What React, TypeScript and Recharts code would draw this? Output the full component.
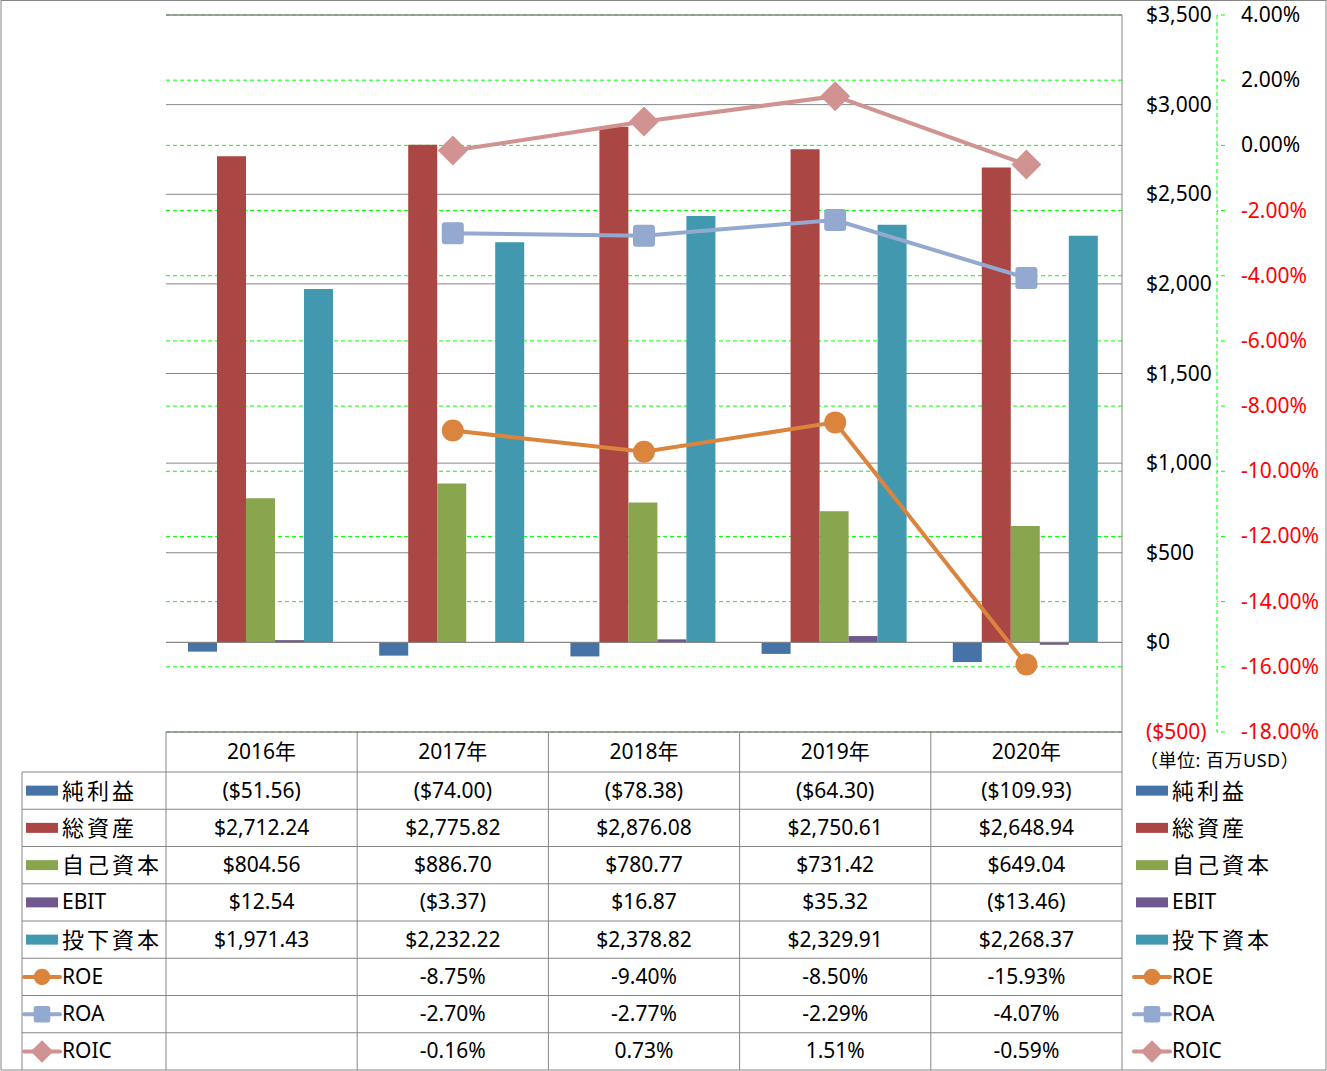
import React from 'react';
import {
  ComposedChart,
  Bar,
  Line,
  XAxis,
  YAxis,
  CartesianGrid,
  ReferenceLine,
} from 'recharts';

const years = ['2016年', '2017年', '2018年', '2019年', '2020年'];
const netIncome = [-51.56, -74.0, -78.38, -64.3, -109.93];
const totalAssets = [2712.24, 2775.82, 2876.08, 2750.61, 2648.94];
const equity = [804.56, 886.7, 780.77, 731.42, 649.04];
const ebit = [12.54, -3.37, 16.87, 35.32, -13.46];
const investedCapital = [1971.43, 2232.22, 2378.82, 2329.91, 2268.37];
const roe = [null, -8.75, -9.4, -8.5, -15.93];
const roa = [null, -2.7, -2.77, -2.29, -4.07];
const roic = [null, -0.16, 0.73, 1.51, -0.59];

const moneyTicks = [-500, 0, 500, 1000, 1500, 2000, 2500, 3000, 3500];
const pctTicks = [-18, -16, -14, -12, -10, -8, -6, -4, -2, 0, 2, 4];

const data = years.map((y, i) => ({
  year: y,
  netIncome: netIncome[i],
  totalAssets: totalAssets[i],
  equity: equity[i],
  ebit: ebit[i],
  investedCapital: investedCapital[i],
  roe: roe[i],
  roa: roa[i],
  roic: roic[i],
}));

const FONT = '"Noto Sans", "Noto Sans CJK JP", sans-serif';
const JP_FONT = '"Noto Sans CJK JP", sans-serif';
const GRAY = '#868686';
const GREEN = '#00FF00';
const FS = 21;

const W = 1327;
const H = 1071;
const PLOT_L = 166;
const PLOT_R = 1122;
const PLOT_T = 15;
const PLOT_B = 732;
const ROW_H = 37.25;

type Series = {
  key: string;
  name: string;
  color: string;
  kind: 'bar' | 'circle' | 'square' | 'diamond';
  values: (number | null)[];
};

const series: Series[] = [
  { key: 'netIncome', name: '純利益', color: '#4572A7', kind: 'bar', values: netIncome },
  { key: 'totalAssets', name: '総資産', color: '#AA4643', kind: 'bar', values: totalAssets },
  { key: 'equity', name: '自己資本', color: '#89A54E', kind: 'bar', values: equity },
  { key: 'ebit', name: 'EBIT', color: '#71588F', kind: 'bar', values: ebit },
  { key: 'investedCapital', name: '投下資本', color: '#4198AF', kind: 'bar', values: investedCapital },
  { key: 'roe', name: 'ROE', color: '#DB843D', kind: 'circle', values: roe },
  { key: 'roa', name: 'ROA', color: '#93A9CF', kind: 'square', values: roa },
  { key: 'roic', name: 'ROIC', color: '#D19392', kind: 'diamond', values: roic },
];

const fmtMoney = (v: number) => {
  const s = '$' + Math.abs(v).toLocaleString('en-US', { minimumFractionDigits: 2, maximumFractionDigits: 2 });
  return v < 0 ? `(${s})` : s;
};

const isJp = (s: string) => /[^\x00-\x7F]/.test(s);

const Marker = ({ kind, cx, cy, color, s }: { kind: string; cx: number; cy: number; color: string; s: number }) => {
  if (kind === 'circle') return <circle cx={cx} cy={cy} r={11 * s} fill={color} />;
  if (kind === 'square')
    return <rect x={cx - 11 * s} y={cy - 11 * s} width={22 * s} height={22 * s} rx={3 * s} fill={color} />;
  const d = 15 * s;
  return <polygon points={`${cx},${cy - d} ${cx + d},${cy} ${cx},${cy + d} ${cx - d},${cy}`} fill={color} />;
};

const makeDot = (kind: string, color: string) => (props: any) => {
  const { cx, cy, index } = props;
  if (cx == null || cy == null || props.value == null) return <g key={`e${index}`} />;
  return (
    <g key={`d${index}`}>
      <Marker kind={kind} cx={cx} cy={cy} color={color} s={1} />
    </g>
  );
};

const MoneyTick = (props: any) => {
  const { y, payload } = props;
  const v = payload.value;
  const label = v < 0 ? `($${Math.abs(v)})` : '$' + v.toLocaleString('en-US');
  return (
    <text x={1146} y={y} dy={7} fontSize={FS} fontFamily={FONT} fill={v < 0 ? '#FF0000' : '#000'}>
      {label}
    </text>
  );
};

const PctTick = (props: any) => {
  const { y, payload } = props;
  const v = payload.value;
  return (
    <text x={1241} y={y} dy={7} fontSize={FS} fontFamily={FONT} fill={v < 0 ? '#FF0000' : '#000'}>
      {v.toFixed(2) + '%'}
    </text>
  );
};

const LegendKey = ({ s, x, cy }: { s: Series; x: number; cy: number }) => (
  <g>
    {s.kind === 'bar' ? (
      <rect x={x} y={cy - 5} width={32} height={10} fill={s.color} />
    ) : (
      <g>
        <line x1={x - 2} y1={cy} x2={x + 34} y2={cy} stroke={s.color} strokeWidth={4} strokeLinecap="round" />
        <Marker kind={s.kind} cx={x + 16} cy={cy} color={s.color} s={0.75} />
      </g>
    )}
    {isJp(s.name) ? (
      <text x={x + 36} y={cy} dy={8} fontSize={22} letterSpacing={3} fontFamily={JP_FONT} fill="#000">
        {s.name}
      </text>
    ) : (
      <text x={x + 36} y={cy} dy={7} fontSize={FS} fontFamily={FONT} fill="#000">
        {s.name}
      </text>
    )}
  </g>
);

const DataTable = () => {
  const colW = (PLOT_R - PLOT_L) / years.length;
  const headTop = PLOT_B;
  const rowsTop = PLOT_B + 40;
  const bottom = rowsTop + ROW_H * series.length;
  return (
    <svg width={W} height={H} style={{ position: 'absolute', left: 0, top: 0, pointerEvents: 'none' }}>
      <rect x={1} y={0.5} width={W - 2} height={H - 1.5} fill="none" stroke={GRAY} />
      <line x1={PLOT_L} y1={PLOT_T} x2={PLOT_R} y2={PLOT_T} stroke={GRAY} />
      <line x1={PLOT_R} y1={PLOT_T} x2={PLOT_R} y2={bottom} stroke={GRAY} />
      <line x1={PLOT_L} y1={headTop} x2={PLOT_R} y2={headTop} stroke={GRAY} />
      {years.map((_, i) => (
        <line key={`v${i}`} x1={PLOT_L + colW * i} y1={headTop} x2={PLOT_L + colW * i} y2={bottom} stroke={GRAY} />
      ))}
      <line x1={22} y1={rowsTop} x2={22} y2={bottom} stroke={GRAY} />
      {series.map((_, i) => (
        <line key={`h${i}`} x1={22} y1={rowsTop + ROW_H * i} x2={PLOT_R} y2={rowsTop + ROW_H * i} stroke={GRAY} />
      ))}
      {years.map((y, i) => (
        <text key={`y${i}`} x={PLOT_L + colW * (i + 0.5)} y={headTop + 20} dy={7} textAnchor="middle" fontSize={FS} fontFamily={FONT}>
          {y}
        </text>
      ))}
      <text x={1140} y={761} dy={6} fontSize={18} letterSpacing={0.5} fontFamily={FONT} fill="#000">
        （単位: 百万USD）
      </text>
      {series.map((s, r) => {
        const cy = rowsTop + ROW_H * (r + 0.5);
        return (
          <g key={s.key}>
            <LegendKey s={s} x={26} cy={cy} />
            <LegendKey s={s} x={1136} cy={cy} />
            {s.values.map((v, i) =>
              v == null ? null : (
                <text key={i} x={PLOT_L + colW * (i + 0.5)} y={cy} dy={7} textAnchor="middle" fontSize={FS} fontFamily={FONT} fill="#000">
                  {s.kind === 'bar' ? fmtMoney(v) : v.toFixed(2) + '%'}
                </text>
              )
            )}
          </g>
        );
      })}
    </svg>
  );
};

export default function App() {
  return (
    <div style={{ position: 'absolute', left: 0, top: 0, width: W, height: H, background: '#fff' }}>
      <ComposedChart
        width={W}
        height={H}
        data={data}
        margin={{ top: PLOT_T, right: 5, bottom: H - PLOT_B, left: PLOT_L }}
        barGap={0}
        barCategoryGap={22}
      >
        <CartesianGrid yAxisId="right" vertical={false} stroke={GREEN} strokeDasharray="4 3" />
        <CartesianGrid yAxisId="left" vertical={false} stroke={GRAY} />
        <XAxis dataKey="year" hide />
        <YAxis
          yAxisId="left"
          orientation="right"
          domain={[-500, 3500]}
          ticks={moneyTicks}
          width={95}
          axisLine={false}
          tickLine={false}
          tick={<MoneyTick />}
          allowDataOverflow
        />
        <YAxis
          yAxisId="right"
          orientation="right"
          domain={[-18, 4]}
          ticks={pctTicks}
          width={105}
          axisLine={{ stroke: GREEN, strokeDasharray: '4 3' }}
          tickLine={{ stroke: GREEN, strokeDasharray: '4 3' }}
          tickSize={8}
          tick={<PctTick />}
          allowDataOverflow
        />
        <ReferenceLine yAxisId="left" y={0} stroke={GRAY} />
        {series
          .filter((s) => s.kind === 'bar')
          .map((s) => (
            <Bar key={s.key} yAxisId="left" dataKey={s.key} fill={s.color} isAnimationActive={false} />
          ))}
        {series
          .filter((s) => s.kind !== 'bar')
          .map((s) => (
            <Line
              key={s.key}
              yAxisId="right"
              dataKey={s.key}
              stroke={s.color}
              strokeWidth={4}
              dot={makeDot(s.kind, s.color)}
              activeDot={false}
              isAnimationActive={false}
            />
          ))}
      </ComposedChart>
      <DataTable />
    </div>
  );
}
